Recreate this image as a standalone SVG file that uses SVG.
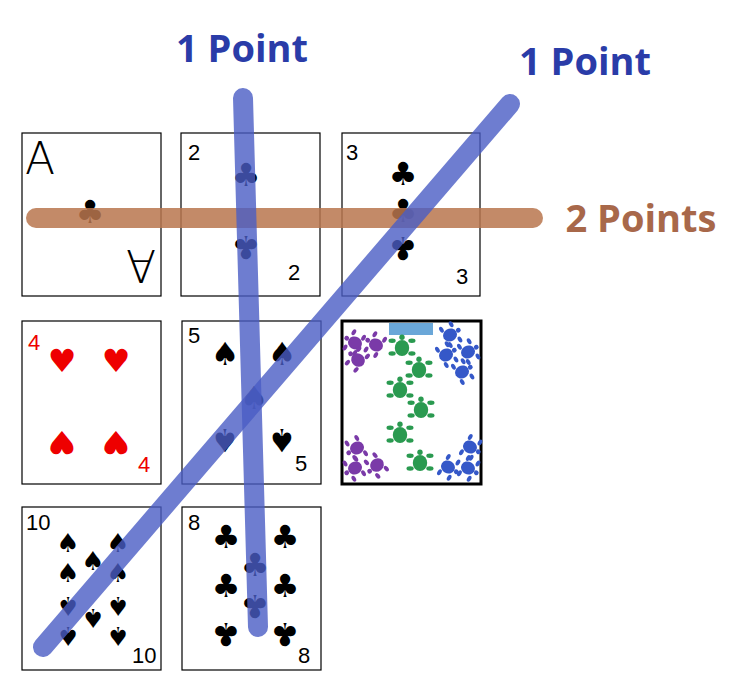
<svg xmlns="http://www.w3.org/2000/svg" xmlns:xlink="http://www.w3.org/1999/xlink" width="733" height="700" viewBox="0 0 733 700">
<style>
.card{fill:#fff;stroke:#000;stroke-width:1.2}
.rank{font-family:"Liberation Sans",Arial,sans-serif;font-size:22px;fill:#000}
.big{font-family:"DejaVu Sans",sans-serif;font-weight:200;font-size:44px;fill:#000}
.pip{font-family:"DejaVu Sans",sans-serif;font-size:32px;text-anchor:middle;fill:#000}
.sm{font-size:26px}
.red{fill:#e00}
.lbl{font-family:"Open Sans","Liberation Sans",sans-serif;font-weight:bold;font-size:38px}
</style>
<defs>
<g id="turtle"><ellipse cx="0" cy="0" rx="8" ry="9"/><ellipse cx="-11" cy="-8" rx="4" ry="2.5"/><ellipse cx="11" cy="-8" rx="4" ry="2.5"/><ellipse cx="-11" cy="6" rx="4" ry="2.5"/><ellipse cx="11" cy="6" rx="4" ry="2.5"/><circle cx="0" cy="-12" r="3"/></g>
</defs>
<rect width="733" height="700" fill="#fff"/>
<g id="cardA"><rect class="card" x="22" y="133" width="139" height="163"/><text class="big" x="25" y="174">A</text><text class="big" transform="rotate(180 142 271)" x="128" y="292">A</text><text class="pip" x="90" y="223">♣</text></g>
<g id="card2"><rect class="card" x="181" y="133" width="139" height="163"/><text class="rank" x="188" y="160">2</text><text class="rank" x="288" y="280">2</text><text class="pip" x="246" y="186">♣</text><text class="pip" transform="rotate(180 246 247)" x="246" y="258">♣</text></g>
<g id="card3"><rect class="card" x="342" y="133" width="138" height="163"/><text class="rank" x="346" y="160">3</text><text class="rank" x="456" y="284">3</text><text class="pip" x="403" y="185">♣</text><text class="pip" x="403" y="222">♣</text><text class="pip" transform="rotate(180 403 248)" x="403" y="259">♣</text></g>
<g id="card4"><rect class="card" x="22" y="321" width="139" height="163"/><text class="rank red" x="28" y="350">4</text><text class="rank red" x="138" y="472">4</text><text class="pip red" x="62" y="372">♥</text><text class="pip red" x="116" y="372">♥</text><text class="pip red" transform="rotate(180 62 442)" x="62" y="453">♥</text><text class="pip red" transform="rotate(180 116 442)" x="116" y="453">♥</text></g>
<g id="card5"><rect class="card" x="182" y="321" width="139" height="163"/><text class="rank" x="188" y="343">5</text><text class="rank" x="295" y="471">5</text><text class="pip" x="225" y="365">♠</text><text class="pip" x="282" y="365">♠</text><text class="pip" x="254" y="409">♠</text><text class="pip" transform="rotate(180 225 440)" x="225" y="451">♠</text><text class="pip" transform="rotate(180 282 440)" x="282" y="451">♠</text></g>
<g id="cardBack"><rect x="342" y="321" width="139" height="163" fill="#fff" stroke="#000" stroke-width="3"/><rect x="389" y="323" width="44" height="12" fill="#6aa7d8"/>
<g fill="#7a3aa8"><use xlink:href="#turtle" transform="translate(355,343) rotate(-60) scale(0.8)"/><use xlink:href="#turtle" transform="translate(376,345) rotate(-60) scale(0.8)"/><use xlink:href="#turtle" transform="translate(358,360) rotate(-50) scale(0.8)"/><use xlink:href="#turtle" transform="translate(357,448) rotate(-120) scale(0.8)"/><use xlink:href="#turtle" transform="translate(355,468) rotate(-120) scale(0.8)"/><use xlink:href="#turtle" transform="translate(377,465) rotate(-130) scale(0.8)"/></g>
<g fill="#2a9a50"><use xlink:href="#turtle" transform="translate(402,348) scale(0.9)"/><use xlink:href="#turtle" transform="translate(419,370) scale(0.9)"/><use xlink:href="#turtle" transform="translate(400,390) scale(0.9)"/><use xlink:href="#turtle" transform="translate(421,410) scale(0.9)"/><use xlink:href="#turtle" transform="translate(400,435) scale(0.9)"/><use xlink:href="#turtle" transform="translate(420,463) scale(0.9)"/></g>
<g fill="#3558c8"><use xlink:href="#turtle" transform="translate(450,335) rotate(60) scale(0.8)"/><use xlink:href="#turtle" transform="translate(446,355) rotate(60) scale(0.8)"/><use xlink:href="#turtle" transform="translate(468,352) rotate(60) scale(0.8)"/><use xlink:href="#turtle" transform="translate(462,372) rotate(60) scale(0.8)"/><use xlink:href="#turtle" transform="translate(470,447) rotate(120) scale(0.8)"/><use xlink:href="#turtle" transform="translate(448,467) rotate(120) scale(0.8)"/><use xlink:href="#turtle" transform="translate(468,468) rotate(120) scale(0.8)"/></g></g>
<g id="card10"><rect class="card" x="22" y="507" width="139" height="163"/><text class="rank" x="26" y="530">10</text><text class="rank" x="132" y="663">10</text>
<text class="pip sm" x="68" y="552">♠</text><text class="pip sm" x="118" y="552">♠</text><text class="pip sm" x="93" y="570">♠</text><text class="pip sm" x="68" y="582">♠</text><text class="pip sm" x="118" y="582">♠</text>
<text class="pip sm" transform="rotate(180 68 606)" x="68" y="615">♠</text><text class="pip sm" transform="rotate(180 118 606)" x="118" y="615">♠</text><text class="pip sm" transform="rotate(180 93 618)" x="93" y="627">♠</text><text class="pip sm" transform="rotate(180 68 636)" x="68" y="645">♠</text><text class="pip sm" transform="rotate(180 118 636)" x="118" y="645">♠</text></g>
<g id="card8"><rect class="card" x="182" y="507" width="139" height="163"/><text class="rank" x="188" y="530">8</text><text class="rank" x="298" y="663">8</text>
<text class="pip" x="226" y="548">♣</text><text class="pip" x="285" y="548">♣</text><text class="pip" x="255" y="576">♣</text><text class="pip" x="226" y="597">♣</text><text class="pip" x="285" y="597">♣</text>
<text class="pip" transform="rotate(180 255 606)" x="255" y="617">♣</text><text class="pip" transform="rotate(180 226 634)" x="226" y="645">♣</text><text class="pip" transform="rotate(180 285 634)" x="285" y="645">♣</text></g>
<g id="connectors" stroke-linecap="round" fill="none">
<line x1="36" y1="218" x2="533" y2="218" stroke="#b8754d" stroke-opacity="0.85" stroke-width="20"/>
<line x1="243" y1="98" x2="258" y2="627" stroke="#4a5cc4" stroke-opacity="0.8" stroke-width="20"/>
<line x1="510" y1="104" x2="43" y2="647" stroke="#4a5cc4" stroke-opacity="0.8" stroke-width="20"/>
</g>
<g id="labels">
<text class="lbl" x="242" y="62" fill="#2a3ca8" text-anchor="middle">1 Point</text>
<text class="lbl" x="585" y="75" fill="#2a3ca8" text-anchor="middle">1 Point</text>
<text class="lbl" x="641" y="232" fill="#a8684a" text-anchor="middle">2 Points</text>
</g>
</svg>
